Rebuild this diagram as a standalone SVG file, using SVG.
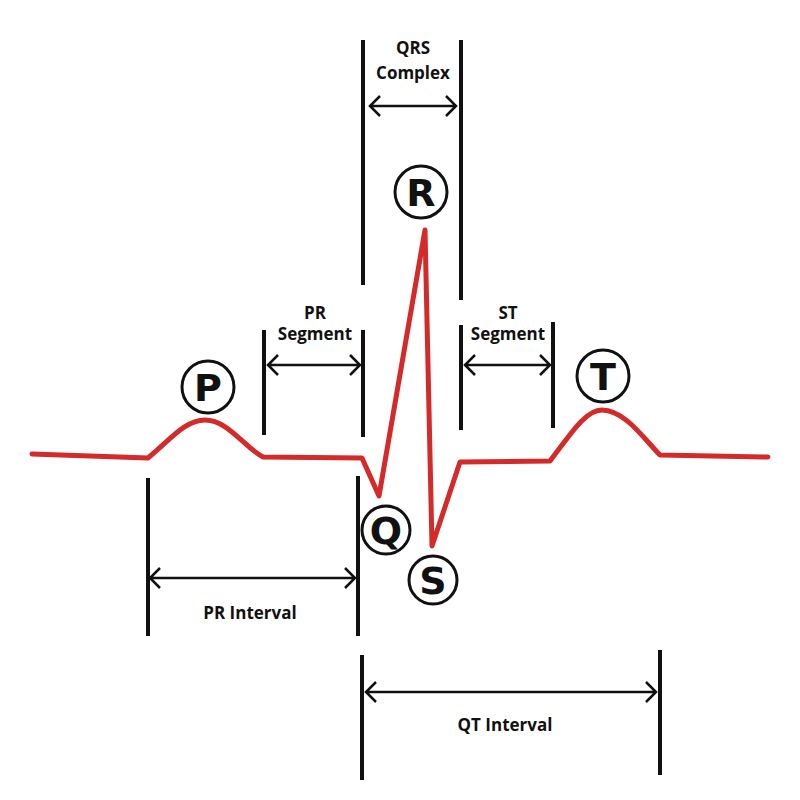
<svg xmlns="http://www.w3.org/2000/svg" width="800" height="800" viewBox="0 0 800 800">
<style>
.v{stroke:#111;stroke-width:4;fill:none}
.a{stroke:#111;stroke-width:2.5;fill:none}
.t{font-family:"Open Sans","Liberation Sans",sans-serif;font-weight:bold;font-size:17px;fill:#111;text-anchor:middle}
.c{fill:#fff;stroke:#111;stroke-width:3}
.l{font-family:"DejaVu Sans","Liberation Sans",sans-serif;font-weight:bold;font-size:38px;fill:#111;text-anchor:middle}
</style>
<rect width="800" height="800" fill="#fff"/>
<g id="connectors">
<path class="v" d="M363 40V285M461 40V300M264 330V435M363 330V437M461 325V430M553 322V428M148 478V636M358 476V636M362 655V780M660 650V775"/>
<path class="a" d="M370 106H456M380 96L370 106L380 116M446 96L456 106L446 116"/>
<path class="a" d="M268 365H360M278 355L268 365L278 375M350 355L360 365L350 375"/>
<path class="a" d="M465 365H550M475 355L465 365L475 375M540 355L550 365L540 375"/>
<path class="a" d="M150 578H355M160 568L150 578L160 588M345 568L355 578L345 588"/>
<path class="a" d="M366 692H656M376 682L366 692L376 702M646 682L656 692L646 702"/>
</g>
<g id="ecg">
<path d="M32 454L148 458C170 440 185 420 205 420C228 420 245 448 263 457L362 458L379 496L425 230L432 546L460 462L550 461C570 435 585 410 602 410C625 410 645 440 660 455L768 457" fill="none" stroke="#d42a2a" stroke-width="5" stroke-linejoin="round" stroke-linecap="round"/>
</g>
<g id="labels">
<text class="t" x="413" y="54">QRS</text><text class="t" x="413" y="79">Complex</text>
<text class="t" x="315" y="319">PR</text><text class="t" x="315" y="340">Segment</text>
<text class="t" x="508" y="319">ST</text><text class="t" x="508" y="340">Segment</text>
<text class="t" x="250" y="619">PR Interval</text>
<text class="t" x="505" y="731">QT Interval</text>
</g>
<g id="P"><circle class="c" cx="208" cy="387" r="26"/><text class="l" x="208" y="401">P</text></g>
<g id="R"><circle class="c" cx="421" cy="192" r="26"/><text class="l" x="421" y="206">R</text></g>
<g id="T"><circle class="c" cx="603" cy="376" r="26"/><text class="l" x="603" y="390">T</text></g>
<g id="Q"><circle class="c" cx="386" cy="530" r="24"/><text class="l" x="386" y="544">Q</text></g>
<g id="S"><circle class="c" cx="433" cy="580" r="24"/><text class="l" x="433" y="594">S</text></g>
</svg>
